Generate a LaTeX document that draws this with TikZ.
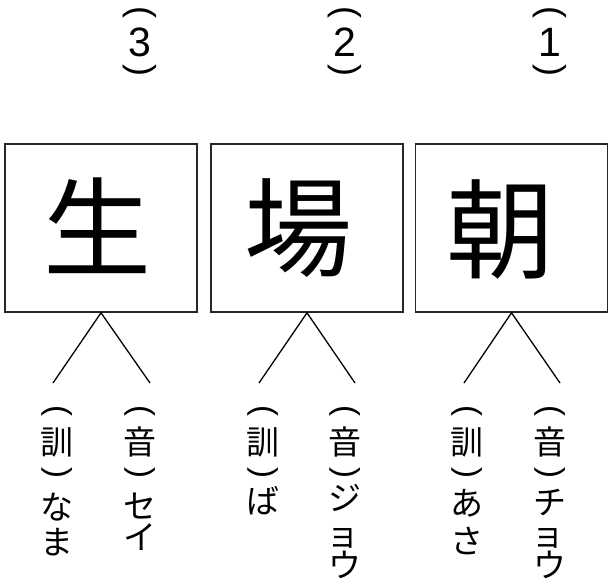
\documentclass[tikz,border=0pt]{standalone}
\usepackage{fontspec}
\newfontfamily\jp{Noto Sans CJK JP}
\newfontfamily\lsans{Liberation Sans}
\begin{document}
\begin{tikzpicture}[x=1pt,y=-1pt]
\useasboundingbox (0,0) rectangle (609,585);
\tikzset{
  kbox/.style={draw=black!85, line width=1.6pt, minimum width=192pt, minimum height=168pt, inner sep=0pt},
  kanji/.style={font=\jp\fontsize{108}{108}\selectfont, inner sep=0pt},
  vch/.style={font=\jp\fontsize{33}{33}\selectfont, inner sep=0pt},
  num/.style={font=\lsans\fontsize{41}{41}\selectfont, inner sep=0pt},
  npar/.style={font=\lsans\fontsize{36}{36}\selectfont, inner sep=0pt, rotate=-90},
  vpar/.style={font=\lsans\fontsize{33}{33}\selectfont, inner sep=0pt, rotate=-90},
  conn/.style={line width=1.3pt}
}
% boxes
\node[kbox] (b1) at (101,228) {};
\node[kbox] (b2) at (307,228) {};
\node[kbox] (b3) at (511.5,228) {};
\node[kanji] (k1) at (97,226) {生};
\node[kanji] (k2) at (298,228) {場};
\node[kanji] (k3) at (500,230) {朝};
% numbers
\foreach \x/\n/\nm in {140/3/a,345/2/b,550/1/c}{
  \node[npar] (pt\nm) at (\x,12.5) {(};
  \node[num] (d\nm) at (\x,42) {\n};
  \node[npar] (pb\nm) at (\x,70) {)};
}
% connectors
\coordinate (l1) at (53,383);  \coordinate (r1) at (150,383);
\coordinate (l2) at (259,383); \coordinate (r2) at (355,383);
\coordinate (l3) at (464,383); \coordinate (r3) at (560,383);
\draw[conn] (l1) -- (b1.south) -- (r1);
\draw[conn] (l2) -- (b2.south) -- (r2);
\draw[conn] (l3) -- (b3.south) -- (r3);
% vertical labels: kun
\foreach \x/\nm in {57/a,263/b,467/c}{
  \node[vpar] (kt\nm) at (\x,411) {(};
  \node[vch] (kk\nm) at (\x,442) {訓};
  \node[vpar] (kb\nm) at (\x,473) {)};
}
% vertical labels: on
\foreach \x/\nm in {140/a,345/b,550/c}{
  \node[vpar] (ot\nm) at (\x,411) {(};
  \node[vch] (oo\nm) at (\x,442) {音};
  \node[vpar] (ob\nm) at (\x,473) {)};
}
% readings
\node[vch] (na) at (57,507) {な};
\node[vch] (ma) at (57,542) {ま};
\node[vch] (se) at (140,506) {セ};
\node[vch] (i) at (140,537) {イ};
\node[vch] (ba) at (263,501) {ば};
\node[vch] (ji) at (345,498) {ジ};
\node[vch] (yo1) at (343,538) {ョ};
\node[vch] (u1) at (345,565) {ウ};
\node[vch] (a) at (467,503) {あ};
\node[vch] (sa) at (467,541) {さ};
\node[vch] (chi) at (550,502) {チ};
\node[vch] (yo2) at (548,538) {ョ};
\node[vch] (u2) at (550,565) {ウ};
\end{tikzpicture}
\end{document}
